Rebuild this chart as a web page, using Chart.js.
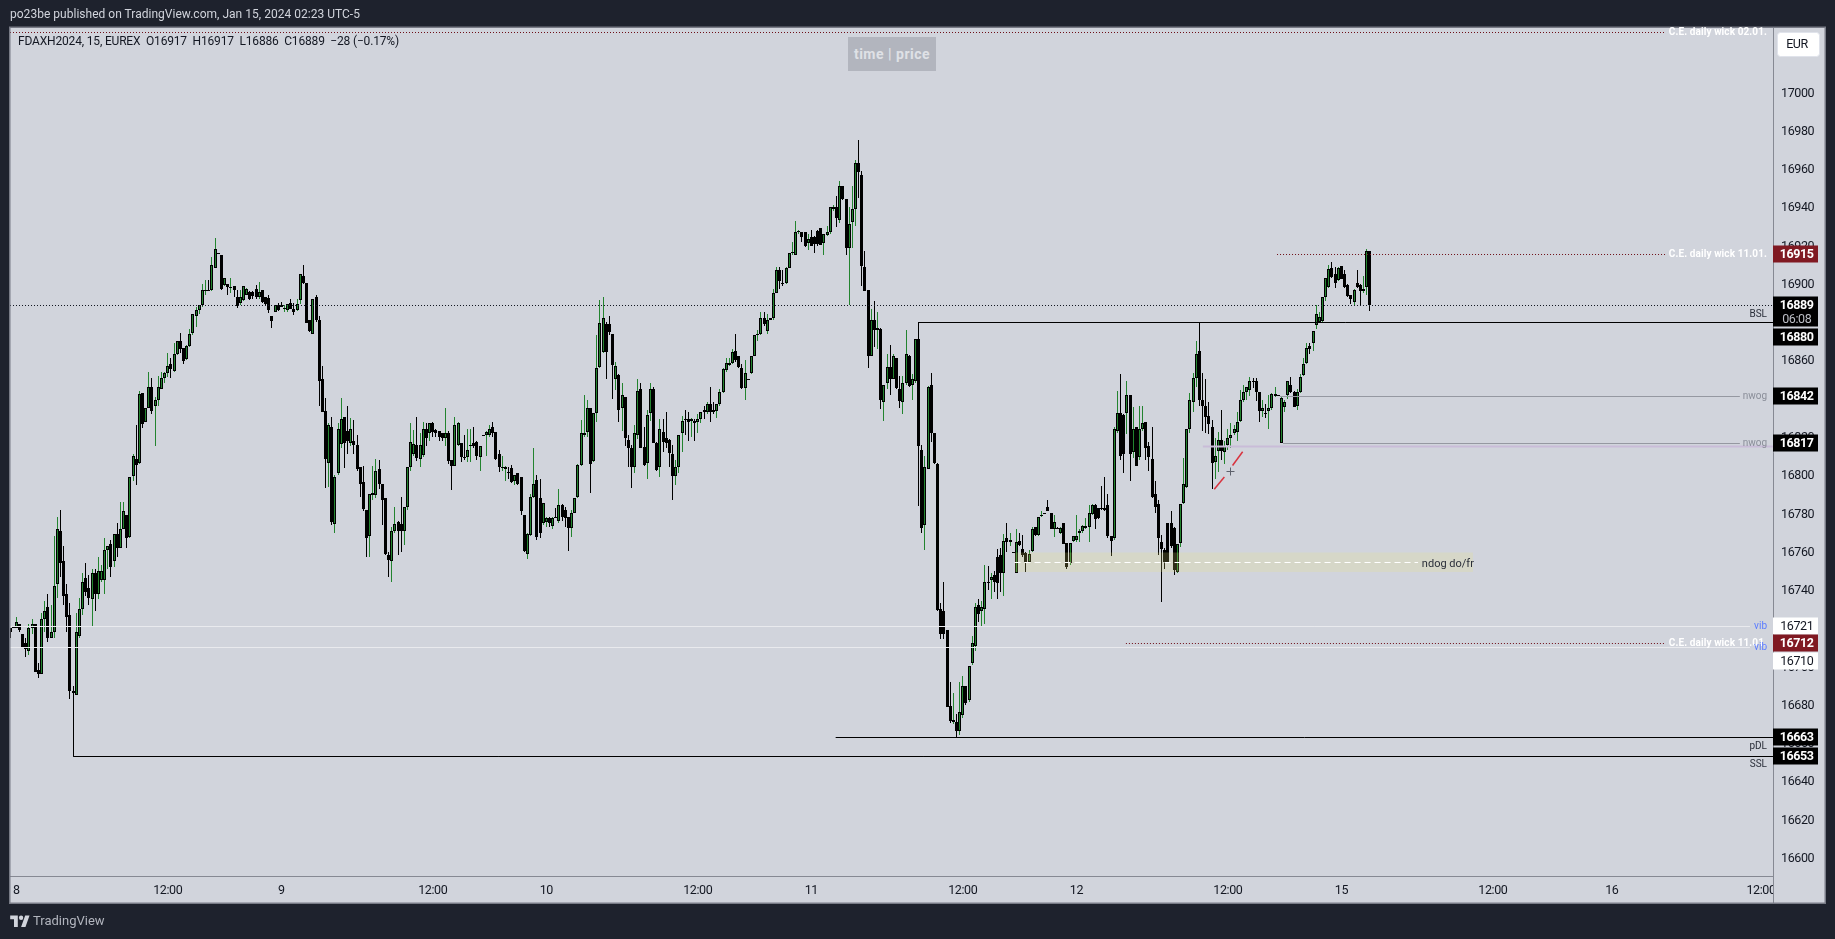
<!DOCTYPE html>
<html><head><meta charset="utf-8">
<style>
html,body{margin:0;padding:0;background:#1e222d;width:1835px;height:939px;overflow:hidden}
canvas{position:absolute;left:0;top:0}
.t{position:absolute;white-space:nowrap;font-family:Roboto,sans-serif}
#hdr{left:10px;top:6px;font-size:12px;line-height:16px;color:#d1d4dc;letter-spacing:.02px}
#leg{left:18px;top:33px;font-size:12px;line-height:16px;color:#131722;letter-spacing:-.17px}
#chip{left:848px;top:37px;width:88px;height:34px;background:#b2b5be;color:#dfe1e6;font-size:14px;font-weight:700;line-height:34px;text-align:center;letter-spacing:.5px}
#foot{left:33px;top:913px;font-size:13px;line-height:16px;color:#b2b5be}
#logo{position:absolute;left:10px;top:915px;width:20px;height:12px}
</style></head><body>
<canvas id="c" width="1835" height="939"></canvas>
<div class="t" id="hdr">po23be published on TradingView.com, Jan 15, 2024 02:23 UTC-5</div>
<div class="t" id="leg">FDAXH2024, 15, EUREX&nbsp; O16917&nbsp; H16917&nbsp; L16886&nbsp; C16889&nbsp; −28 (−0.17%)</div>
<div class="t" id="chip">time | price</div>
<svg id="logo" viewBox="0 0 36 22"><path fill="#d1d4dc" d="M14 22H7V8H0V1h14v21zM28 22h-8l7.5-21h8L28 22z"/><circle fill="#d1d4dc" cx="20" cy="5" r="4"/></svg>
<div class="t" id="foot">TradingView</div>
<script src="https://cdn.jsdelivr.net/npm/chart.js@4"></script>
<script>
const opens=[16720,16720,16720,16722,16717,16712,16708,16720,16722,16698,
16696,16725,16731,16715,16718,16743,16771,16755,16738,16727,
16687,16685,16716,16730,16746,16741,16735,16749,16738,16745,
16745,16761,16764,16755,16769,16762,16772,16779,16767.5,16799.5,
16808.5,16806.5,16843,16828,16835,16846,16836,16839,16845,16851,
16853.5,16858,16854.5,16863.5,16870,16866.5,16860.5,16867.5,16874.5,16883,
16886.5,16889,16896.5,16897,16896.5,16908.5,16916,16915,16899.5,16900,
16898,16899,16893,16890,16891.5,16894,16895.5,16895.5,16897.5,16893,
16896.5,16893,16892.5,16883,16885.5,16889,16889,16887,16886.5,16890,
16887,16886.5,16891.5,16904,16900.5,16881,16874,16893,16881,16850,
16833.5,16806.5,16825,16774.5,16801,16816.5,16830.5,16823,16817,16818,
16816,16804,16796.5,16782,16768,16789.5,16789.5,16803,16795.5,16788,
16758,16755,16771,16775.5,16774.5,16771,16783.5,16804,16811,16816,
16808.5,16810.5,16824,16822,16827,16823.5,16823,16822,16819.5,16822,
16808,16805,16816,16817,16809.5,16809.5,16815,16817,16817.5,16809.5,
16821,16821,16821,16825,16822.5,16811,16804,16803,16801.5,16803.5,
16797,16801,16799,16779,16759,16768.5,16788.5,16797.5,16788,16775,
16775.5,16777.5,16773.5,16778,16776,16784.5,16782,16778,16772.5,16780,
16788.5,16805.5,16821,16822.5,16835,16807.5,16832.5,16856.5,16864.5,16879,
16879,16873.5,16850,16852.5,16835,16841,16818.5,16814,16804,16821,
16845,16814.5,16806.5,16832.5,16845,16817,16804,16822.5,16819.5,16818.5,
16811,16799.5,16804,16822,16829.5,16829.5,16828.5,16828.5,16828,16829.5,
16834,16833,16837,16834,16833.5,16837,16843.5,16855,16857.5,16858.5,
16865,16862,16856,16845.5,16850,16853.5,16862.5,16873,16873.5,16882,
16875.5,16881,16882,16895,16907,16900.5,16900.5,16908.5,16916,16915,
16927,16927,16927,16921.5,16924.5,16924.5,16927.5,16929,16921.5,16925.5,
16927,16939,16940,16933.5,16951,16944.5,16918.5,16932.5,16939,16963,
16957,16909,16896.5,16862,16881,16876,16876.5,16838,16848,16856.5,
16850,16861,16845,16838,16848,16862.5,16847,16849,16871,16813,
16774,16803,16847,16822,16806,16730,16729,16719,16679.5,16671,
16671,16666.5,16674.5,16690,16682.5,16702,16710.5,16732,16729,16730,
16744,16745,16748,16757,16758,16749,16767,16765,16760,16749,
16765.5,16761.5,16759.5,16754.5,16760.5,16773,16768.5,16778.5,16780,16783.5,
16780,16772,16772.5,16770,16775,16764.5,16754,16765.5,16766,16770,
16771,16772.5,16773,16779.5,16784.5,16783,16783,16783,16784.5,16768,
16767,16823,16832.5,16831.5,16832.5,16842,16812,16825,16809.5,16824,
16828,16815,16808.5,16790,16785,16765,16761,16775,16775,16772.5,
16749.5,16764.5,16785.5,16794,16824,16838,16851,16865,16839.5,16836,
16831,16825,16807,16812.5,16818.5,16812,16815.5,16819.5,16822,16822.5,
16828.5,16839,16843.5,16844.5,16849,16849,16843.5,16833.5,16832.5,16833.5,
16835,16841.5,16842,16817,16835.5,16842,16847,16843.5,16836,16843.5,
16852.5,16858.5,16867.5,16869,16878.5,16880,16880.5,16893,16898.5,16908.5,
16905,16902,16909.5,16905,16899.5,16894,16890.5,16900.5,16899.5,16896,
16898.5,16917];
const highs=[16720,16721,16726,16722,16717,16715,16722,16725,16722,16702,
16728,16734,16738,16732,16768,16778,16782,16763,16743,16733,
16690,16728,16736,16749,16754,16748,16751,16751,16757,16753,
16767,16763,16766,16769,16775,16786,16786,16779,16799,16811,
16826,16844,16843,16835,16854,16851,16841,16852,16854,16854,
16864,16861,16869,16870,16874.5,16866.5,16868,16876.5,16884,16888,
16889,16900,16902,16902,16914,16924,16916,16915,16903,16900,
16903,16899,16896.5,16897,16899,16898,16896,16896,16899.5,16901,
16897,16893,16894,16883,16889,16890,16890.5,16889,16889.5,16892,
16890,16892,16905,16910,16900.5,16881,16892,16894,16883,16857,
16840.5,16827,16830.5,16800,16827,16840.5,16830.5,16836,16830,16829,
16821,16804,16805,16782,16790,16805,16808.5,16808,16795.5,16788,
16760,16773,16783.5,16776,16788.5,16783.5,16804,16827,16823.5,16830.5,
16822,16828,16827,16827,16828,16824,16823,16822,16835,16823,
16808,16830.5,16828,16817,16821,16824,16824,16825,16818,16815,
16821,16823,16826,16828,16822.5,16813,16810,16805,16804,16805.5,
16800,16801,16799,16779,16770,16790,16814,16800,16798,16785.5,
16778,16778,16778,16783,16793,16785,16783.5,16778,16782,16788,
16806,16829,16842,16839.5,16835,16832.5,16873,16891.5,16893,16880,
16883,16874,16859,16853,16848,16841,16821,16816,16826,16850,
16848,16825,16834,16848,16846,16817.5,16829.5,16829.5,16833,16819,
16816,16808,16821,16831,16834,16833,16830,16829.5,16832,16833,
16836,16838,16846,16838,16837,16845,16856,16861,16861,16866,
16873.5,16862,16858,16860,16850,16862,16873,16876,16885.5,16885,
16884,16882,16897.5,16909,16909,16907,16909,16916,16922,16933,
16928,16927,16927,16926,16928,16925,16928,16929,16926,16930,
16940,16941,16946,16953.5,16951,16944.5,16940,16951,16964.5,16975,
16959,16917,16896.5,16887,16891,16885.5,16877,16847,16863.5,16868,
16863.5,16861,16852,16852,16876,16863,16853,16871,16880,16816,
16810,16846.5,16853.5,16822,16806.5,16733,16744,16719,16692,16686,
16675,16692,16695,16690,16700,16716,16733,16735,16734,16753,
16752.5,16749,16750,16761.5,16762,16769,16775,16770,16760,16772,
16769.5,16768.5,16760,16761,16773,16773,16778,16781,16780,16787,
16780,16779,16773,16773,16775,16764.5,16764.5,16768,16779,16772,
16774,16777.5,16784.5,16785,16785,16783,16794.5,16799,16790,16768,
16825,16844,16853,16832,16849,16842,16835.5,16825,16836,16836,
16828,16817.5,16825,16797,16787,16768.5,16762,16775,16781,16773,
16764,16785,16809,16824,16843,16853.5,16870,16880,16853.5,16850,
16838,16829,16819.5,16822.5,16834,16818,16824,16827,16826,16833,
16844.5,16847,16846,16851.5,16850.5,16851,16843.5,16839,16837,16842,
16843,16846,16842,16841,16839,16849,16851.5,16844,16845,16853,
16861,16869,16869,16875.5,16889,16885,16893,16903,16910,16911.5,
16909,16909,16909.5,16907,16900,16894,16897.5,16907,16900,16904,
16918,16917];
const lows=[16715,16720,16720,16718,16710,16705,16706,16717,16697,16694,
16696,16718,16713,16715,16715,16736,16747,16732,16718,16683,
16685,16685,16715,16727,16737,16732,16721,16729,16735,16744,
16738,16751,16747,16752,16757,16762,16772,16762,16767,16797,
16795,16806,16824.5,16828,16835,16832,16815,16836,16845,16848,
16851.5,16851,16854,16863,16864,16858,16860,16867,16873,16877.5,
16884,16888,16894,16896,16896,16908,16915.5,16897,16899,16894,
16895,16893,16887.5,16889,16891,16894,16891.5,16892,16892,16892,
16890,16889,16884.5,16877,16885,16886,16888,16885.5,16885.5,16887,
16883.5,16886,16889.5,16900,16879.5,16875,16874,16880,16836,16833,
16793.5,16794,16774,16770,16800,16814,16803.5,16811,16815,16811,
16802,16788.5,16781,16757,16757,16787,16788,16793,16774,16758,
16747,16744,16770,16758,16760,16763.5,16782,16802,16810,16807.5,
16804,16809.5,16815,16818,16820,16820,16818,16818,16815,16806,
16792,16805,16815,16807,16808,16807,16807,16814,16808,16802,
16821,16810,16820,16820,16808,16801.5,16802,16797,16798,16796,
16795,16795,16779,16760,16756,16768,16788,16766,16767,16774,
16773,16773,16772,16778,16775,16776,16773,16760.5,16767.5,16780,
16788,16805,16820,16820,16790.5,16807,16827.5,16856,16864,16850,
16873,16840,16844.5,16828,16823,16815,16804.5,16793.5,16801,16819,
16814,16805,16798,16828.5,16817,16802,16799,16812,16814,16804.5,
16787,16795,16801,16812,16821,16818,16820,16818,16822,16827,
16829.5,16832,16827.5,16832,16830,16836,16843,16854,16857,16858,
16859,16856,16845,16839,16850,16853,16862,16870,16873,16878,
16874,16881,16881,16895,16897.5,16899,16900,16908,16915,16915,
16926,16922,16919,16917.5,16919.5,16916,16920,16920.5,16915,16925,
16926,16938,16929.5,16932,16944,16915,16889,16918.5,16930,16945,
16899,16896,16856,16862,16867,16866,16834.5,16828.5,16845,16842,
16850,16845,16835,16832,16847,16846,16839,16848,16784,16769.5,
16761,16803,16817.5,16806,16729,16714.5,16714.5,16679,16670.5,16670,
16663,16664,16673,16680,16681.5,16701,16708,16723,16721,16722,
16740,16735.5,16739,16735.5,16739,16737,16760,16763,16760,16749,
16763,16757,16749.5,16754,16760,16768,16768,16778,16780,16781.5,
16772,16767.5,16772,16769,16764,16751,16753,16765,16765,16765,
16770,16772,16765,16779,16772,16777,16782,16781,16767,16757.5,
16766,16822,16808,16801,16821.5,16797,16809,16805,16808,16823,
16808,16802,16788,16780,16758,16733.5,16751,16754,16762,16748,
16749,16762.5,16785,16793.5,16822,16833,16846,16836,16823,16822,
16821.5,16793,16798,16801.5,16808,16806,16813,16814,16821,16818,
16828,16838,16839.5,16841.5,16845.5,16838.5,16827.5,16830.5,16830,16824,
16834,16841,16841.5,16817,16833,16840,16843,16835.5,16834,16843,
16852,16858,16863.5,16865,16876.5,16880,16880,16891,16898,16903,
16898,16901.5,16903,16898,16893,16889.5,16889,16898,16889,16895,
16894,16886];
const closes=[16718,16721,16723,16719,16710,16709,16720,16722,16697,16696,
16725,16729,16715,16718,16742,16772,16754,16737,16726,16687,
16686,16718,16730,16744,16739,16736,16749,16738,16750,16750,
16761,16763,16752,16769,16762,16772,16781,16767,16799,16810,
16805.5,16842.5,16826.5,16835,16846,16833.5,16839,16846,16851,16853.5,
16857,16855.5,16863.5,16870,16866,16859.5,16867.5,16873.5,16884,16886.5,
16889,16896.5,16897,16896.5,16910,16918,16916,16897.5,16903,16898.5,
16898.5,16897,16888.5,16893,16899,16897.5,16892,16893.5,16893,16895.5,
16890.5,16889.5,16886.5,16880.5,16889,16886.5,16888,16887.5,16889.5,16887,
16885.5,16889.5,16905,16900.5,16879.5,16875.5,16892,16881,16849,16833,
16808.5,16826,16775.5,16799,16824,16829.5,16817,16818,16824,16816,
16803,16795.5,16782.5,16767,16790,16790.5,16802,16795.5,16787,16759,
16755.5,16771,16774.5,16771,16771,16783.5,16804,16817.5,16816.5,16809,
16816,16824,16819.5,16827,16822.5,16822,16820,16819.5,16822,16807.5,
16805,16826,16827,16809.5,16809,16813,16816,16815,16810,16815,
16821,16822.5,16824,16822,16808.5,16804,16804.5,16804,16801,16796.5,
16800,16795.5,16781,16760.5,16769,16788.5,16795.5,16767.5,16769.5,16785.5,
16777.5,16775,16777.5,16778,16784.5,16778,16777.5,16772.5,16780,16788,
16805.5,16822,16822,16835,16806,16832.5,16856,16879.5,16882,16864.5,
16875,16857.5,16857,16834,16842,16819.5,16814,16804,16822,16844,
16814,16805.5,16831.5,16845,16817,16802.5,16824,16817.5,16817,16811.5,
16799.5,16804,16821,16828.5,16829.5,16828,16829.5,16827,16829.5,16833,
16833,16837,16833,16833,16837,16843.5,16855.5,16858.5,16858.5,16864.5,
16860,16856.5,16845.5,16853.5,16850,16862,16873,16873.5,16882,16879,
16881,16882,16895,16907,16901.5,16900.5,16908.5,16916,16916.5,16927,
16927.5,16924.5,16919.5,16923.5,16920,16921,16921,16920.5,16926,16927,
16940,16940,16934.5,16951,16944.5,16918.5,16931.5,16939,16963,16958.5,
16909.5,16896,16862,16881,16876,16877,16839.5,16847,16856.5,16850,
16862,16845.5,16838.5,16848,16863.5,16846.5,16850,16871,16815,16772.5,
16804.5,16846,16822,16806.5,16729.5,16717,16717,16679,16671.5,16672,
16666,16676,16690,16681,16700,16712,16731,16727.5,16731,16744,
16744,16747,16744,16743.5,16749,16765.5,16765,16766,16760,16765,
16763.5,16758,16754.5,16759,16772,16768.5,16778,16779,16780,16781.5,
16772,16775.5,16772,16772.5,16764,16752,16764.5,16768,16768,16771,
16773.5,16773.5,16780,16784.5,16777,16777.5,16783,16782,16768,16765.5,
16824,16832.5,16810,16811,16842,16811,16824,16805,16824,16827,
16814,16809.5,16788.5,16783.5,16767,16761.5,16754.5,16754.5,16763,16750.5,
16764,16785,16795.5,16824,16839,16851,16863.5,16839,16836,16830.5,
16826.5,16806.5,16810,16818.5,16812.5,16815,16819.5,16821,16824,16828,
16839,16843.5,16846,16849,16849,16843.5,16833.5,16835,16832.5,16835,
16842.5,16842.5,16842,16840.5,16838,16849,16843.5,16835.5,16843.5,16851.5,
16858,16866.5,16866,16875.5,16884,16882.5,16893,16903,16907.5,16903.5,
16900.5,16908.5,16902.5,16898.5,16893.5,16892,16896.5,16898.5,16896,16897.5,
16917,16889];

const priceTicks=[16600,16620,16640,16660,16680,16700,16720,16740,16760,16780,16800,16820,16840,16860,16880,16900,16920,16940,16960,16980,17000];
const timeTickPos=[2,50,86,134,170,218,254,302,338,386,422,470,507.7,555];
const timeTickText=['8','12:00','9','12:00','10','12:00','11','12:00','12','12:00','15','12:00','16','12:00'];
const lastPrice=16889, ceTop=17031.6, ce11a=16915.8, ce11b=16712, bsl=16880, pdl=16663, ssl=16653, nwog1=16841.5, nwog2=16817, purpleLvl=16815, vib1=16721, vib2=16710;
const boxTop=16759.9, boxBottom=16749.3, boxMid=16754.6;
const tagPrices=[16915,16889,16880,16842,16817,16721,16712,16710,16663,16653];
const tagKinds=['r','k','k','k','k','w','r','w','k','k'];
const tagShifts=[-1,0,15,1,0,0,0,14,0,0];

const ink='#000000', green='#23842f', lineRed='#6e0f18';
const wickData=opens.map((_,i)=>({x:i,y:[lows[i],highs[i]]}));
const bodyData=opens.map((_,i)=>({x:i,y:[opens[i],closes[i]]}));
const isUp=opens.map((o,i)=>closes[i]>o);
function ln(x0,x1,y0,y1,color,width,dash,order,extra){
  return Object.assign({type:'line',data:[{x:x0,y:y0},{x:x1,y:y1}],borderColor:color,borderWidth:width,borderDash:dash||[],pointRadius:0,tension:0,order:order||3,fill:false},extra||{});
}
const XR=558.8, XL=0;
const datasets=[
 {type:'bar',data:wickData,order:6,grouped:false,barThickness:1,backgroundColor:isUp.map(u=>u?green:ink),borderWidth:0,inflateAmount:0},
 {type:'bar',data:bodyData,order:5,grouped:false,barThickness:3,backgroundColor:isUp.map(u=>u?green:ink),borderColor:ink,borderWidth:1,borderSkipped:false,inflateAmount:0},
 ln(XL,524.6,ceTop,ceTop,lineRed,1,[1,2]),
 ln(XL,XR,lastPrice,lastPrice,'#131722',1,[1,2]),
 ln(288,XR,bsl,bsl,ink,1),
 ln(401.6,524.6,ce11a,ce11a,lineRed,1,[1,2]),
 ln(402.5,548.3,nwog1,nwog1,'#9598a1',1),
 ln(403.5,548.3,nwog2,nwog2,'#9598a1',1),
 ln(378.1,XR,purpleLvl,purpleLvl,'#c9bcd8',2),
 ln(XL,551.5,vib1,vib1,'#e9eaee',1),
 ln(XL,551.5,vib2,vib2,'#e9eaee',1),
 ln(353.7,524.6,ce11b,ce11b,lineRed,1,[1,2]),
 ln(261.7,XR,pdl,pdl,ink,1),
 ln(20,XR,ssl,ssl,ink,1),
 ln(20,20,ssl,16686,ink,1),
 ln(381.7,384.9,16792.6,16799,'#d8333f',1.5,[],2,{noSnap:true}),
 ln(387.5,390.7,16805,16812.2,'#d8333f',1.5,[],2,{noSnap:true}),
 ln(318.4,463.7,boxTop,boxTop,'rgba(0,0,0,0)',0,[],2,{fill:{target:{value:boxBottom}},backgroundColor:'rgba(236,232,120,.2)'}),
 ln(318.4,446.3,boxMid,boxMid,'#ffffff',1,[6,4],1)
];
const levelLabels=[
 {t:'C.E. daily wick 02.01.',p:ceTop,c:'#ffffff',b:1,dy:0},
 {t:'C.E. daily wick 11.01.',p:ce11a,c:'#ffffff',b:1,dy:0},
 {t:'C.E. daily wick 11.01.',p:ce11b,c:'#ffffff',b:1,dy:0},
 {t:'BSL',p:bsl,c:'#2a2e39',dy:-8},
 {t:'nwog',p:nwog1,c:'#8a8e99',dy:0},
 {t:'nwog',p:nwog2,c:'#8a8e99',dy:0},
 {t:'vib',p:vib1,c:'#5b7cff',dy:0},
 {t:'vib',p:vib2,c:'#5b7cff',dy:0},
 {t:'pDL',p:pdl,c:'#2a2e39',dy:9},
 {t:'SSL',p:ssl,c:'#2a2e39',dy:8}
];
const FONT='Roboto, sans-serif';
const pane={
 id:'pane',
 beforeDraw(ch){const c=ch.ctx;c.save();c.fillStyle='#d1d4dc';c.fillRect(10,27,1815,876);c.restore();c.letterSpacing='-0.4px';},
 afterDatasetsUpdate(ch){
  ch.data.datasets.forEach((ds,k)=>{
   const m=ch.getDatasetMeta(k);
   if(ds.type==='bar'){
    m.data.forEach(el=>{
     el.x=Math.floor(el.x)+.5;
     let a=Math.round(el.y),b=Math.round(el.base);
     if(a===b)b=a+1;
     el.y=a;el.base=b;el.height=b-a;
    });
   }else if(!ds.noSnap){
    const same=ds.data[0].y===ds.data[1].y;
    m.data.forEach(p=>{ if(same)p.y=Math.round(p.y)+.5; else p.x=Math.floor(p.x)+.5; });
   }
  });
 },
 afterDraw(ch){
  const c=ch.ctx,y=ch.scales.y,x=ch.scales.x;
  c.save();
  c.fillStyle='#d1d4dc';c.fillRect(1774,877,50,26);
  c.strokeStyle='#868993';c.lineWidth=1;
  c.beginPath();c.moveTo(1773.5,877);c.lineTo(1773.5,903);c.stroke();
  c.strokeStyle='#787b86';c.lineWidth=1.5;c.strokeRect(9.75,27.25,1815.5,876);
  const cx=Math.round(x.getPixelForValue(386.7))+.5,cy=Math.round(y.getPixelForValue(16802.2))+.5;
  c.strokeStyle='#5d606b';c.lineWidth=1;c.beginPath();c.moveTo(cx-4,cy);c.lineTo(cx+4,cy);c.moveTo(cx,cy-4);c.lineTo(cx,cy+4);c.stroke();
  c.textBaseline='middle';c.textAlign='right';
  levelLabels.forEach(l=>{
   c.font=(l.b?'bold 10px ':'10px ')+FONT;c.letterSpacing=l.b?'0.1px':'0px';c.fillStyle=l.c;
   c.fillText(l.t,x.getPixelForValue(556.9),Math.round(y.getPixelForValue(l.p))+l.dy);
  });
  c.letterSpacing='0px';c.textAlign='left';c.font='11px '+FONT;c.fillStyle='#2a2e39';
  c.fillText('ndog do/fr',x.getPixelForValue(447.5),y.getPixelForValue(boxMid)+2);
  c.textAlign='center';c.letterSpacing='-0.4px';
  const L=1773,W=45,H=17;
  const order=[0,5,6,7,2,1,3,4,8,9];
  order.forEach(i=>{
   const p=tagPrices[i],k=tagKinds[i],yy=Math.round(y.getPixelForValue(p))+tagShifts[i];
   c.fillStyle=k==='r'?'#801922':k==='w'?'#ffffff':'#000000';
   if(p===lastPrice){c.fillRect(L,yy-8.5,W,30);}
   else c.fillRect(L,yy-8.5,W,H);
   c.fillStyle=k==='w'?'#131722':'#ffffff';
   c.font=(k==='w'?'':'bold ')+'12.5px '+FONT;
   c.fillText(String(p),1796.7,yy+.5);
   if(p===lastPrice){c.fillStyle='#bdbfc6';c.font='12.5px '+FONT;c.fillText('06:08',1796.7,yy+14.5);}
  });
  c.fillStyle='#ffffff';c.strokeStyle='#e0e3eb';c.lineWidth=1;
  c.beginPath();c.roundRect(1777.5,32.5,42,24,3);c.fill();c.stroke();
  c.fillStyle='#131722';c.font='12.5px '+FONT;c.fillText('EUR',1797,45);
  c.restore();
 }
};
new Chart(document.getElementById('c'),{
 type:'bar',
 data:{datasets},
 plugins:[pane],
 options:{
  responsive:false,animation:false,devicePixelRatio:1,
  layout:{padding:{left:10,right:10,top:28,bottom:36}},
  plugins:{legend:{display:false},tooltip:{enabled:false},title:{display:false}},
  events:[],
  scales:{
   x:{type:'linear',min:XL,max:XR,offset:false,grid:{display:false,drawTicks:false},
      border:{display:true,color:'#868993',width:1},
      afterBuildTicks(s){s.ticks=timeTickPos.map(v=>({value:v}));},
      afterFit(s){s.height=26.5;},
      ticks:{autoSkip:false,maxRotation:0,minRotation:0,padding:7,color:'#131722',font:{family:FONT,size:12.5},
        callback(v){const i=timeTickPos.indexOf(v);return i<0?'':timeTickText[i];}}},
   y:{type:'linear',position:'right',min:16590.2,max:17033.7,grid:{display:false,drawTicks:false},
      border:{display:true,color:'#868993',width:1},
      afterBuildTicks(s){s.ticks=priceTicks.map(v=>({value:v}));},
      afterFit(s){s.width=52;},
      ticks:{padding:8,labelOffset:1,color:'#131722',font:{family:FONT,size:12.5},callback(v){return String(v);}}}
  }
 }
});
</script>
</body></html>
